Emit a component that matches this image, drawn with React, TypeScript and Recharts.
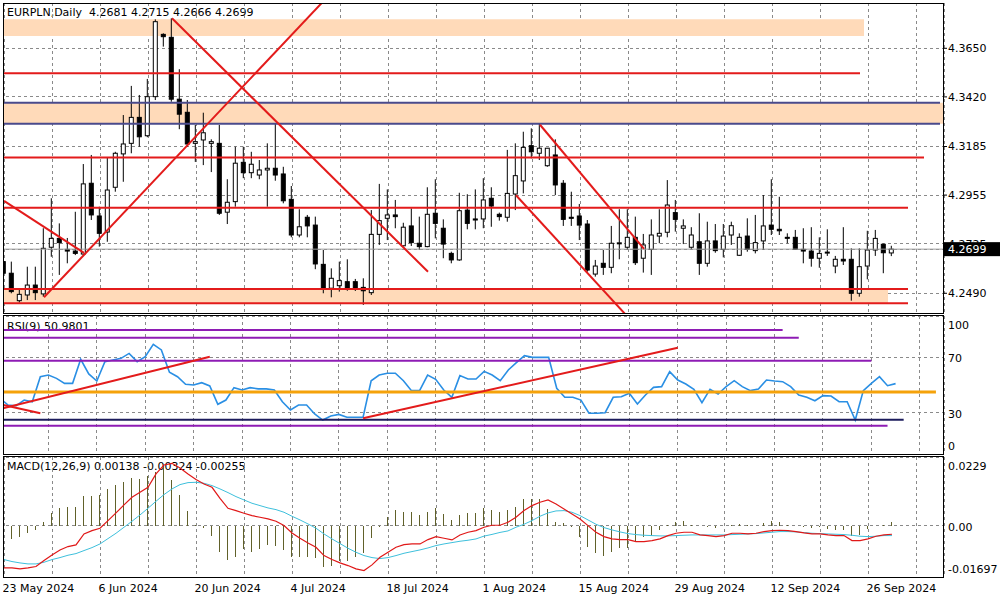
import { ComposedChart, Bar, Line, XAxis, YAxis, CartesianGrid, ReferenceLine, ReferenceArea } from "recharts";

// x axis: one slot per daily bar (incl. Sunday bars), empty slots on the right
const dateLabels = ["23 May 2024", "6 Jun 2024", "20 Jun 2024", "4 Jul 2024", "18 Jul 2024", "1 Aug 2024", "15 Aug 2024", "29 Aug 2024", "12 Sep 2024", "26 Sep 2024"];
const dateTickBars = [0, 12, 24, 36, 48, 60, 72, 84, 96, 108];
const gridBars = [0, 6, 12, 18, 24, 30, 36, 42, 48, 54, 60, 66, 72, 78, 84, 90, 96, 102, 108, 114];
const SLOTS = 118;

const opens = [
  4.2640, 4.2585, 4.2455, 4.2482, 4.2529, 4.2487, 4.2708, 4.2750, 4.2698, 4.2690,
  4.2676, 4.3011, 4.2856, 4.2780, 4.2992, 4.3150, 4.3200, 4.3323, 4.3236, 4.3421,
  4.3716, 4.3702, 4.3409, 4.3347, 4.3200, 4.3216, 4.3200, 4.3200, 4.2874, 4.2924,
  4.3110, 4.3061, 4.3050, 4.3074, 4.3082, 4.3055, 4.2935, 4.2766, 4.2850, 4.2813,
  4.2627, 4.2514, 4.2526, 4.2545, 4.2545, 4.2518, 4.2493, 4.2769, 4.2845, 4.2861,
  4.2715, 4.2809, 4.2727, 4.2711, 4.2869, 4.2798, 4.2679, 4.2648, 4.2884, 4.2842,
  4.2842, 4.2940, 4.2864, 4.2850, 4.2960, 4.3022, 4.3189, 4.3153, 4.3094, 4.3145,
  4.3011, 4.2850, 4.2856, 4.2818, 4.2581, 4.2632, 4.2613, 4.2727, 4.2708, 4.2755,
  4.2656, 4.2698, 4.2761, 4.2779, 4.2872, 4.2798, 4.2708, 4.2734, 4.2632, 4.2738,
  4.2698, 4.2766, 4.2670, 4.2761, 4.2692, 4.2738, 4.2813, 4.2793, 4.2755, 4.2755,
  4.2698, 4.2690, 4.2656, 4.2684, 4.2619, 4.2651, 4.2651, 4.2490, 4.2619, 4.2695,
  4.2722, 4.2681,
];
const highs = [
  4.2719, 4.2640, 4.2514, 4.2616, 4.2616, 4.2798, 4.2940, 4.2821, 4.2752, 4.2876,
  4.3102, 4.3145, 4.2900, 4.3131, 4.3160, 4.3334, 4.3472, 4.3429, 4.3505, 4.3787,
  4.3721, 4.3792, 4.3551, 4.3405, 4.3287, 4.3345, 4.3219, 4.3287, 4.3030, 4.3184,
  4.3184, 4.3160, 4.3121, 4.3200, 4.3295, 4.3089, 4.2998, 4.2888, 4.2861, 4.2853,
  4.2695, 4.2608, 4.2640, 4.2651, 4.2558, 4.2561, 4.2884, 4.3008, 4.2982, 4.2932,
  4.2824, 4.2892, 4.2853, 4.2992, 4.3030, 4.2840, 4.2687, 4.2966, 4.2959, 4.2982,
  4.3035, 4.2992, 4.2872, 4.3169, 4.3200, 4.3255, 4.3271, 4.3292, 4.3178, 4.3219,
  4.3026, 4.2971, 4.2913, 4.2837, 4.2648, 4.2695, 4.2809, 4.2888, 4.2888, 4.2853,
  4.2771, 4.2840, 4.2888, 4.3026, 4.2932, 4.2840, 4.2803, 4.2869, 4.2829, 4.2818,
  4.2818, 4.2829, 4.2774, 4.2845, 4.2861, 4.2955, 4.3030, 4.2947, 4.2774, 4.2790,
  4.2798, 4.2803, 4.2755, 4.2793, 4.2667, 4.2803, 4.2703, 4.2703, 4.2786, 4.2790,
  4.2725, 4.2715,
];
const lows = [
  4.2572, 4.2490, 4.2446, 4.2458, 4.2458, 4.2474, 4.2663, 4.2577, 4.2632, 4.2671,
  4.2667, 4.2837, 4.2711, 4.2734, 4.2971, 4.3018, 4.3153, 4.3184, 4.3229, 4.3405,
  4.3658, 4.3397, 4.3267, 4.3184, 4.3112, 4.3097, 4.3064, 4.2861, 4.2818, 4.2900,
  4.3035, 4.3035, 4.3030, 4.2900, 4.3023, 4.2916, 4.2755, 4.2755, 4.2755, 4.2604,
  4.2490, 4.2471, 4.2498, 4.2502, 4.2501, 4.2435, 4.2482, 4.2719, 4.2742, 4.2798,
  4.2711, 4.2714, 4.2695, 4.2708, 4.2750, 4.2656, 4.2632, 4.2644, 4.2793, 4.2793,
  4.2798, 4.2805, 4.2834, 4.2829, 4.2884, 4.2963, 4.3129, 4.3121, 4.3089, 4.2955,
  4.2809, 4.2809, 4.2742, 4.2592, 4.2569, 4.2577, 4.2585, 4.2651, 4.2695, 4.2624,
  4.2588, 4.2577, 4.2727, 4.2755, 4.2782, 4.2723, 4.2698, 4.2577, 4.2616, 4.2682,
  4.2660, 4.2719, 4.2667, 4.2687, 4.2679, 4.2695, 4.2766, 4.2766, 4.2727, 4.2695,
  4.2632, 4.2616, 4.2611, 4.2667, 4.2585, 4.2624, 4.2455, 4.2474, 4.2556, 4.2667,
  4.2585, 4.2666,
];
const closes = [
  4.2585, 4.2498, 4.2485, 4.2529, 4.2493, 4.2703, 4.2750, 4.2730, 4.2690, 4.2679,
  4.3008, 4.2861, 4.2774, 4.2979, 4.3153, 4.3197, 4.3323, 4.3231, 4.3421, 4.3776,
  4.3705, 4.3409, 4.3338, 4.3197, 4.3208, 4.3250, 4.3208, 4.2869, 4.2921, 4.3106,
  4.3061, 4.3101, 4.3074, 4.3082, 4.3050, 4.2928, 4.2766, 4.2805, 4.2809, 4.2629,
  4.2514, 4.2561, 4.2550, 4.2514, 4.2514, 4.2502, 4.2769, 4.2834, 4.2861, 4.2853,
  4.2803, 4.2730, 4.2711, 4.2864, 4.2821, 4.2723, 4.2648, 4.2881, 4.2821, 4.2837,
  4.2932, 4.2903, 4.2853, 4.2963, 4.3047, 4.3181, 4.3160, 4.3177, 4.3177, 4.3003,
  4.2840, 4.2845, 4.2813, 4.2600, 4.2619, 4.2613, 4.2727, 4.2729, 4.2755, 4.2635,
  4.2719, 4.2766, 4.2774, 4.2908, 4.2840, 4.2809, 4.2766, 4.2632, 4.2738, 4.2692,
  4.2761, 4.2810, 4.2755, 4.2698, 4.2730, 4.2809, 4.2793, 4.2786, 4.2754, 4.2698,
  4.2690, 4.2656, 4.2679, 4.2685, 4.2651, 4.2643, 4.2490, 4.2616, 4.2695, 4.2750,
  4.2682, 4.2699,
];

const rsi = [
  40.3, 35.5, 35.0, 39.1, 37.9, 56.0, 57.2, 54.8, 51.2, 51.2,
  68.6, 58.0, 52.9, 66.9, 68.1, 69.3, 72.9, 66.9, 70.5, 79.5,
  75.4, 59.2, 56.0, 50.5, 50.0, 51.7, 49.3, 36.0, 39.1, 48.1,
  46.4, 48.1, 47.2, 47.2, 46.4, 37.9, 31.9, 35.5, 35.5, 29.0,
  24.6, 27.5, 28.7, 26.6, 26.6, 26.6, 53.1, 57.2, 58.5, 58.5,
  53.1, 45.9, 45.9, 57.2, 54.1, 46.4, 41.1, 56.8, 54.3, 54.3,
  59.9, 57.2, 53.1, 60.9, 66.2, 71.3, 70.0, 70.0, 70.0, 47.6,
  41.1, 41.1, 39.1, 29.5, 29.5, 29.9, 41.1, 41.5, 44.0, 36.2,
  42.8, 48.3, 48.8, 59.7, 53.6, 50.7, 46.9, 37.2, 46.9, 43.5,
  48.8, 53.1, 48.8, 45.9, 47.1, 53.6, 52.9, 52.4, 48.8, 42.8,
  41.1, 38.6, 42.3, 42.0, 37.9, 37.9, 24.6, 45.9, 51.2, 56.0,
  49.5, 51.0,
];

const macdMain = [
  -0.01395, -0.01395, -0.01428, -0.01395, -0.0135, -0.01151, -0.00963, -0.00797, -0.00686, -0.00631,
  -0.00266, -0.00155, -0.00077, 0.00177, 0.00432, 0.00697, 0.00952, 0.01118, 0.01284, 0.01727,
  0.02026, 0.02081, 0.01926, 0.01727, 0.01539, 0.01395, 0.01284, 0.00919, 0.00587, 0.00509,
  0.00421, 0.00343, 0.00288, 0.00232, 0.00155, 0.00011, -0.00232, -0.0041, -0.00565, -0.00708,
  -0.00985, -0.01118, -0.01229, -0.01317, -0.01428, -0.01483, -0.01295, -0.01041, -0.00875, -0.00708,
  -0.0062, -0.00598, -0.00598, -0.00454, -0.00354, -0.0041, -0.00465, -0.00299, -0.0021, -0.00155,
  -0.00044, 0.00022, 0.00022, 0.00122, 0.00288, 0.00509, 0.00675, 0.00786, 0.00863, 0.00731,
  0.00565, 0.00399, 0.00232, 0.00011, -0.0021, -0.00354, -0.00432, -0.00454, -0.00454, -0.0052,
  -0.0052, -0.00487, -0.00432, -0.00321, -0.00244, -0.0021, -0.0021, -0.00299, -0.00321, -0.00354,
  -0.00321, -0.00244, -0.00244, -0.00266, -0.00244, -0.00188, -0.00155, -0.00144, -0.00155, -0.00188,
  -0.00232, -0.00266, -0.00266, -0.00299, -0.00321, -0.00321, -0.00487, -0.00487, -0.00432, -0.00343,
  -0.00299, -0.00277,
];
const macdSignal = [
  -0.01118, -0.01184, -0.01229, -0.01262, -0.01262, -0.01207, -0.01118, -0.01052, -0.00974, -0.00919,
  -0.00819, -0.0072, -0.00598, -0.00421, -0.00244, -0.00044, 0.00155, 0.00365, 0.00587, 0.00819,
  0.01041, 0.01229, 0.01373, 0.01439, 0.0145, 0.01417, 0.0134, 0.01229, 0.01107, 0.00974,
  0.00863, 0.00753, 0.00675, 0.00598, 0.00542, 0.00454, 0.00321, 0.00199, 0.00066, -0.00077,
  -0.00266, -0.00432, -0.00587, -0.00742, -0.00875, -0.00985, -0.01052, -0.01085, -0.01052, -0.00985,
  -0.00908, -0.00852, -0.00797, -0.00731, -0.00653, -0.00598, -0.00554, -0.00509, -0.00476, -0.00432,
  -0.00338, -0.00282, -0.00216, -0.00166, -0.00044, 0.00055, 0.00177, 0.00321, 0.00432, 0.00498,
  0.00509, 0.00454, 0.00343, 0.00199, 0.00055, -0.00055, -0.00133, -0.00199, -0.00255, -0.00288,
  -0.0031, -0.00321, -0.00332, -0.00332, -0.00321, -0.0031, -0.00299, -0.00299, -0.00299, -0.00299,
  -0.00299, -0.00288, -0.00277, -0.00266, -0.00255, -0.00232, -0.0021, -0.00188, -0.00188, -0.00199,
  -0.00221, -0.00244, -0.00255, -0.00266, -0.00277, -0.00288, -0.0031, -0.00343, -0.00354, -0.00343,
  -0.00321, -0.00321,
];
const macdHist = [
  -0.00487, -0.00432, -0.00376, -0.00232, -0.00122, 0.00144, 0.00432, 0.00587, 0.0062, 0.0062,
  0.01007, 0.01007, 0.0103, 0.01229, 0.01373, 0.01472, 0.01594, 0.01561, 0.01649, 0.01804,
  0.01948, 0.01539, 0.01041, 0.00509, 0.0002, -0.00077, -0.00321, -0.00875, -0.01129, -0.01041,
  -0.00764, -0.00875, -0.00764, -0.00631, -0.00675, -0.00786, -0.01041, -0.01041, -0.01041, -0.01074,
  -0.01373, -0.0134, -0.01151, -0.01151, -0.01041, -0.00908, -0.0041, -0.0003, 0.0031, 0.00531,
  0.00476, 0.00476, 0.00365, 0.00476, 0.00587, 0.00399, 0.0021, 0.00365, 0.00421, 0.00421,
  0.00587, 0.00542, 0.00476, 0.00542, 0.00642, 0.00897, 0.00897, 0.00897, 0.00565, 0.00122,
  0.00089, -0.00044, -0.00376, -0.00708, -0.00908, -0.01007, -0.00875, -0.00742, -0.00742, -0.0052,
  -0.00376, -0.00321, -0.00122, 0.00044, 0.00122, 0.00177, 0.00044, 0.0001, -0.00022, -0.00077,
  0.0001, 0.00044, 0.00066, 0.00044, 0.0001, 0.001, 0.00177, 0.00144, 0.00044, 0.0001,
  -0.00044, -0.00077, -0.00044, -0.001, -0.00122, -0.00122, -0.00321, -0.00288, -0.001, 0.0001,
  0.00044, 0.00138,
];

// axis ticks
const priceTicks = [4.249, 4.2725, 4.2955, 4.3185, 4.342, 4.365];
const lastClose = 4.2699;
const rsiTicks = [100, 70, 30, 0];
const macdTicks = [0.0229, 0, -0.01697];

// drawn objects on the price pane (bar index, price)
const peachBands = [
  { from: 0, to: 107, top: 4.3787, bottom: 4.3708 },
  { from: 0, to: 117, top: 4.3392, bottom: 4.3293 },
  { from: 0, to: 110, top: 4.2510, bottom: 4.2443 },
];
const blueLevels = [
  { price: 4.3392, to: 117 },
  { price: 4.3293, to: 117 },
];
const redLevels = [
  { price: 4.3532, to: 107 },
  { price: 4.3133, to: 115 },
  { price: 4.2895, to: 113 },
  { price: 4.2510, to: 113 },
  { price: 4.2443, to: 113 },
];
const priceTrends = [
  { x1: 0, y1: 4.2928, x2: 10, y2: 4.2681 },
  { x1: 5, y1: 4.2471, x2: 40, y2: 4.3876 },
  { x1: 21, y1: 4.3792, x2: 53, y2: 4.2592 },
  { x1: 67, y1: 4.3288, x2: 80, y2: 4.2700 },
  { x1: 64, y1: 4.2954, x2: 78, y2: 4.2377 },
];

// drawn objects on the RSI pane
const rsiPurpleLevels = [
  { value: 89.9, to: 97 },
  { value: 84.3, to: 99 },
  { value: 67.6, to: 108 },
  { value: 20.5, to: 110 },
];
const rsiOrangeLevel = { value: 44.9, to: 116 };
const rsiNavyLevel = { value: 24.9, to: 112 };
const rsiTrends = [
  { x1: 0, y1: 32.6, x2: 26, y2: 70.5 },
  { x1: 0, y1: 36.0, x2: 5, y2: 29.5 },
  { x1: 45, y1: 25.9, x2: 84, y2: 77.0 },
];

const rows = Array.from({ length: SLOTS }, (_, i) => {
  const has = i < closes.length;
  return {
    i,
    open: has ? opens[i] : null,
    high: has ? highs[i] : null,
    low: has ? lows[i] : null,
    close: has ? closes[i] : null,
    range: has ? [lows[i], highs[i]] : null,
    rsi: has ? rsi[i] : null,
    macd: has ? macdMain[i] : null,
    signal: has ? macdSignal[i] : null,
    hist: has ? macdHist[i] : null,
  };
});

const FONT = "'DejaVu Sans', Verdana, sans-serif";
const RED = "#e31b1b";
const BLUE = "#4a4a8c";
const PEACH = "#ffdab9";
const PURPLE = "#8e1cb4";
const GRID = "#8a8a8a";

function Candle(props: any) {
  const { x, y, width, height, payload } = props;
  if (!payload || payload.range == null || !isFinite(y) || !isFinite(height)) return null;
  const cx = x + width / 2;
  const top = Math.min(y, y + height);
  const bot = Math.max(y, y + height);
  const span = payload.high - payload.low;
  const py = (v: number) => (span > 0 ? top + ((payload.high - v) / span) * (bot - top) : top);
  const yo = py(payload.open);
  const yc = py(payload.close);
  const bt = Math.min(yo, yc);
  const bb = Math.max(yo, yc);
  const up = payload.close >= payload.open;
  return (
    <g>
      <line x1={cx - 0.5} x2={cx - 0.5} y1={top} y2={bot} stroke="#000" strokeWidth={1} />
      <rect x={cx - 2.5} y={bt} width={4} height={Math.max(bb - bt, 1)} fill={up ? "#fff" : "#000"} stroke="#000" strokeWidth={1} />
    </g>
  );
}

function HistLine(props: any) {
  const { x, y, width, height } = props;
  if (!isFinite(x) || !isFinite(y) || !isFinite(height)) return null;
  const cx = x + width / 2 - 0.5;
  return (
    <line
      x1={cx}
      x2={cx}
      y1={Math.min(y, y + height)}
      y2={Math.max(y, y + height)}
      stroke="#61612a"
      strokeWidth={1}
      shapeRendering="crispEdges"
    />
  );
}

function PriceTick(props: any) {
  const { x, y, payload } = props;
  const v = payload.value as number;
  if (v === lastClose) {
    return (
      <g>
        <rect x={x - 4} y={y - 7} width={56} height={14} fill="#000" />
        <text x={x} y={y} dy="0.36em" fill="#fff" fontSize={11} fontFamily={FONT}>{v.toFixed(4)}</text>
      </g>
    );
  }
  return <text x={x} y={y} dy="0.36em" fill="#000" fontSize={11} fontFamily={FONT}>{v.toFixed(4)}</text>;
}

function EdgeTick(props: any) {
  const { x, y, payload, top, bottom, fmt } = props;
  const v = payload.value as number;
  const shift = v === top ? 9 : v === bottom ? -8 : 1;
  return <text x={x} y={y + shift} dy="0.36em" fill="#000" fontSize={11} fontFamily={FONT}>{fmt(v)}</text>;
}

function DateTick(props: any) {
  const { x, y, payload } = props;
  const k = dateTickBars.indexOf(payload.value);
  if (k < 0) return null;
  return <text x={x - 1.5} y={y} dy={15} textAnchor="start" fill="#000" fontSize={11} fontFamily={FONT}>{dateLabels[k]}</text>;
}

const pane = (top: number) => ({ position: "absolute" as const, left: 0, top });
const frame = (top: number, height: number) => ({
  position: "absolute" as const, left: 3, top, width: 941, height, border: "1px solid #000", boxSizing: "border-box" as const, pointerEvents: "none" as const,
});
const caption = (top: number) => ({ position: "absolute" as const, left: 7, top, fontSize: 11, lineHeight: "13px", fontFamily: FONT, color: "#000", whiteSpace: "pre" as const });

export default function App() {
  return (
    <div style={{ position: "absolute", left: 0, top: 0, width: 1000, height: 600, background: "#fff", overflow: "hidden", fontFamily: FONT }}>
      <style>{`.recharts-cartesian-grid line { shape-rendering: crispEdges; }`}</style>
      <div style={caption(6)}>EURPLN,Daily  4.2681 4.2715 4.2666 4.2699</div>
      <div style={caption(320)}>RSI(9) 50.9801</div>
      <div style={caption(460)}>MACD(12,26,9) 0.00138 -0.00324 -0.00255</div>

      <div style={pane(3)}>
        <ComposedChart width={1000} height={310} data={rows} margin={{ top: 0, right: 0, bottom: 0, left: 0 }}>
          <CartesianGrid stroke={GRID} strokeDasharray="3 3" />
          <XAxis dataKey="i" type="category" ticks={gridBars} hide />
          <YAxis
            orientation="right"
            width={56}
            domain={[4.23967, 4.38645]}
            allowDataOverflow
            ticks={[...priceTicks, lastClose]}
            interval={0}
            axisLine={false}
            tickSize={3}
            tickMargin={1}
            tickLine={{ stroke: "#000" }}
            tick={(p: any) => <PriceTick {...p} />}
          />
          {peachBands.map((b, k) => (
            <ReferenceArea key={`band${k}`} x1={b.from} x2={b.to} y1={b.bottom} y2={b.top} fill={PEACH} fillOpacity={1} stroke="none" ifOverflow="hidden" />
          ))}
          <Bar dataKey="range" isAnimationActive={false} shape={(p: any) => <Candle {...p} />} />
          <ReferenceLine y={lastClose} stroke="#9c9c9c" strokeWidth={1} />
          {blueLevels.map((l, k) => (
            <ReferenceLine key={`blue${k}`} segment={[{ x: 0, y: l.price }, { x: l.to, y: l.price }]} stroke={BLUE} strokeWidth={2} ifOverflow="hidden" />
          ))}
          {redLevels.map((l, k) => (
            <ReferenceLine key={`red${k}`} segment={[{ x: 0, y: l.price }, { x: l.to, y: l.price }]} stroke={RED} strokeWidth={2} ifOverflow="hidden" />
          ))}
          {priceTrends.map((t, k) => (
            <ReferenceLine key={`tr${k}`} segment={[{ x: t.x1, y: t.y1 }, { x: t.x2, y: t.y2 }]} stroke={RED} strokeWidth={2} ifOverflow="hidden" />
          ))}
        </ComposedChart>
      </div>

      <div style={pane(316)}>
        <ComposedChart width={1000} height={138} data={rows} margin={{ top: 0, right: 0, bottom: 0, left: 0 }}>
          <CartesianGrid stroke={GRID} strokeDasharray="3 3" />
          <XAxis dataKey="i" type="category" ticks={gridBars} hide />
          <YAxis
            orientation="right"
            width={56}
            domain={[0, 100]}
            ticks={rsiTicks}
            interval={0}
            axisLine={false}
            tickLine={false}
            tickSize={3}
            tickMargin={1}
            tick={(p: any) => <EdgeTick {...p} top={100} bottom={0} fmt={(v: number) => String(v)} />}
          />
          <Line dataKey="rsi" type="linear" stroke="#2a8fe4" strokeWidth={1.6} dot={false} isAnimationActive={false} />
          {rsiPurpleLevels.map((l, k) => (
            <ReferenceLine key={`pl${k}`} segment={[{ x: 0, y: l.value }, { x: l.to, y: l.value }]} stroke={PURPLE} strokeWidth={2} ifOverflow="hidden" />
          ))}
          <ReferenceLine segment={[{ x: 0, y: rsiNavyLevel.value }, { x: rsiNavyLevel.to, y: rsiNavyLevel.value }]} stroke="#1c1c5c" strokeWidth={2} ifOverflow="hidden" />
          <ReferenceLine segment={[{ x: 0, y: rsiOrangeLevel.value }, { x: rsiOrangeLevel.to, y: rsiOrangeLevel.value }]} stroke="#f5a20a" strokeWidth={3} ifOverflow="hidden" />
          {rsiTrends.map((t, k) => (
            <ReferenceLine key={`rt${k}`} segment={[{ x: t.x1, y: t.y1 }, { x: t.x2, y: t.y2 }]} stroke={RED} strokeWidth={2} ifOverflow="hidden" />
          ))}
        </ComposedChart>
      </div>

      <div style={pane(457)}>
        <ComposedChart width={1000} height={143} data={rows} margin={{ top: 0, right: 0, bottom: 0, left: 0 }}>
          <CartesianGrid stroke={GRID} strokeDasharray="3 3" />
          <XAxis
            dataKey="i"
            type="category"
            ticks={gridBars}
            interval={0}
            height={23}
            axisLine={false}
            tickLine={false}
            tickSize={0}
            tickMargin={0}
            tick={(p: any) => <DateTick {...p} />}
          />
          <YAxis
            orientation="right"
            width={56}
            domain={[-0.01697, 0.0229]}
            allowDataOverflow
            ticks={macdTicks}
            interval={0}
            axisLine={false}
            tickLine={false}
            tickSize={3}
            tickMargin={1}
            tick={(p: any) => <EdgeTick {...p} top={0.0229} bottom={-0.01697} fmt={(v: number) => (v === 0 ? "0.00" : String(v))} />}
          />
          <Line dataKey="signal" type="linear" stroke="#3ec0dc" strokeWidth={1} dot={false} isAnimationActive={false} />
          <Line dataKey="macd" type="linear" stroke="#e01818" strokeWidth={1.2} dot={false} isAnimationActive={false} />
          <Bar dataKey="hist" isAnimationActive={false} shape={(p: any) => <HistLine {...p} />} />
        </ComposedChart>
      </div>

      <div style={{ position: "absolute", left: 0, top: 0, width: 3, height: 600, background: "#fff" }} />
      <div style={frame(3, 311)} />
      <div style={frame(315, 140)} />
      <div style={frame(456, 122)} />
    </div>
  );
}
